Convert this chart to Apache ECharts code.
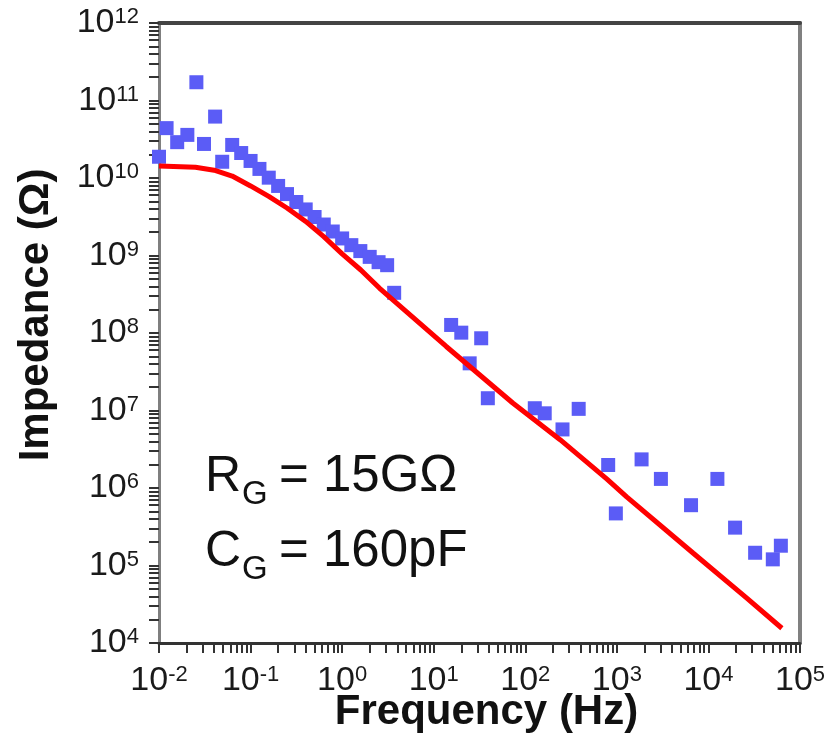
<!DOCTYPE html>
<html>
<head>
<meta charset="utf-8">
<script src="https://cdn.jsdelivr.net/npm/echarts@6/dist/echarts.min.js"></script>
<style>
html,body{margin:0;padding:0;background:#ffffff;}
#chart{width:827px;height:748px;}
</style>
</head>
<body>
<div id="chart"></div>
<script>
// ---- data ----
// measured impedance (blue squares)
const measuredFreqHz = [
  0.01, 0.0121, 0.0158, 0.0204, 0.0256, 0.031, 0.041, 0.049,
  0.063, 0.079, 0.1, 0.125, 0.158, 0.2, 0.25, 0.316, 0.4, 0.5,
  0.63, 0.79, 1.0, 1.26, 1.58, 2.0, 2.5, 3.1, 3.7,
  15.5, 20, 24.7, 33, 39,
  127, 163, 255, 383,
  804, 975, 1862, 3027, 6457, 12530, 19540, 32360, 50470, 61800
];
const measuredImpedance = [
  1.88e10, 4.4e10, 2.9e10, 3.6e10, 1.72e11, 2.75e10, 6.2e10, 1.62e10,
  2.67e10, 2.1e10, 1.66e10, 1.31e10, 1.01e10, 7.9e9, 6.2e9, 4.9e9, 3.93e9, 3.14e9,
  2.51e9, 2.04e9, 1.66e9, 1.36e9, 1.14e9, 9.6e8, 8.2e8, 7.5e8, 3.3e8,
  1.27e8, 1.01e8, 4.06e7, 8.55e7, 1.44e7,
  1.07e7, 9.2e6, 5.7e6, 1.05e7,
  1.98e6, 4.7e5, 2.34e6, 1.31e6, 6.0e5, 1.31e6, 3.08e5, 1.46e5, 1.2e5, 1.8e5
];
// fitted curve (red line)
const modelFreqHz = [
  0.01, 0.025, 0.04, 0.063, 0.1, 0.158, 0.25, 0.4, 0.63, 1.0,
  1.6, 2.55, 13.7, 73, 240, 780, 1280, 6840, 26240, 63400
];
const modelImpedance = [
  1.43e10, 1.38e10, 1.26e10, 1.06e10, 7.9e9, 5.8e9, 4.1e9, 2.75e9, 1.75e9, 1.05e9,
  6.5e8, 3.8e8, 6.7e7, 1.25e7, 4.2e6, 1.3e6, 7.7e5, 1.44e5, 3.8e4, 1.55e4
];
// axis decades (tick labels are 10^n)
const xDecadeMin = -2, xDecadeMax = 5;
const yDecadeMin = 4, yDecadeMax = 12;
// texts
const xTitle = 'Frequency (Hz)';
const yTitle = 'Impedance (Ω)';
const annotation1 = ['R', 'G', '= 15GΩ'];
const annotation2 = ['C', 'G', '= 160pF'];

// ---- build ----
const FONT = 'Liberation Sans, Arial, Helvetica, sans-serif';
function logTicks(lo, hi) {
  const out = [];
  for (let n = lo; n < hi; n++) {
    for (let k = 1; k <= 9; k++) out.push(n + Math.log10(k));
  }
  out.push(hi);
  return out;
}
const toLog = (fs, zs) => fs.map((f, i) => [Math.log10(f), Math.log10(zs[i])]);

const labelRich = {
  b: {fontSize: 34, lineHeight: 34, fontFamily: FONT, color: '#1a1a1a', verticalAlign: 'bottom'},
  s: {fontSize: 22, lineHeight: 22, fontFamily: FONT, color: '#1a1a1a', verticalAlign: 'top'}
};
const powLabel = v => '{b|10}{s|' + String(Math.round(v)) + '}';

function annotation(parts, capCenterY) {
  const common = {fontFamily: FONT, fill: '#111', verticalAlign: 'middle', align: 'left'};
  return [
    {type: 'text', x: 205, y: capCenterY, z: 10, style: Object.assign({text: parts[0], fontSize: 50}, common)},
    {type: 'text', x: 242, y: capCenterY + 18, z: 10, style: Object.assign({text: parts[1], fontSize: 33}, common)},
    {type: 'text', x: 279, y: capCenterY, z: 10, style: Object.assign({text: parts[2], fontSize: 51}, common)}
  ];
}

const chart = echarts.init(document.getElementById('chart'), null, {renderer: 'canvas'});

chart.setOption({
  animation: false,
  backgroundColor: '#ffffff',
  grid: {left: 159, right: 27, top: 23, bottom: 105, outerBoundsMode: 'none', containLabel: false},
  xAxis: [{
    type: 'value', min: xDecadeMin, max: xDecadeMax, interval: 1, position: 'bottom',
    name: xTitle, nameLocation: 'middle', nameGap: 48, nameMoveOverlap: false,
    nameTextStyle: {fontSize: 42, fontWeight: 'bold', fontFamily: FONT, color: '#111', padding: [0, 0, 0, 14]},
    axisLine: {show: true, onZero: false, lineStyle: {color: '#333', width: 3}},
    axisTick: {show: true, length: 10, customValues: logTicks(xDecadeMin, xDecadeMax), lineStyle: {color: '#333', width: 2}},
    axisLabel: {margin: 21, formatter: powLabel, rich: labelRich, hideOverlap: false},
    splitLine: {show: false}
  }, {
    type: 'value', min: xDecadeMin, max: xDecadeMax, position: 'top',
    axisLine: {show: true, onZero: false, lineStyle: {color: '#444', width: 4}},
    axisTick: {show: false}, axisLabel: {show: false}, splitLine: {show: false}
  }],
  yAxis: [{
    type: 'value', min: yDecadeMin, max: yDecadeMax, interval: 1, position: 'left',
    name: yTitle, nameLocation: 'middle', nameRotate: 90, nameGap: 102, nameMoveOverlap: false,
    nameTextStyle: {fontSize: 42, fontWeight: 'bold', fontFamily: FONT, color: '#111', padding: [0, 0, 0, 36]},
    axisLine: {show: true, onZero: false, lineStyle: {color: '#7f7f7f', width: 3}},
    axisTick: {show: true, length: 10, customValues: logTicks(yDecadeMin, yDecadeMax), lineStyle: {color: '#333', width: 2}},
    axisLabel: {margin: 20, formatter: powLabel, rich: labelRich, hideOverlap: false},
    splitLine: {show: false}
  }, {
    type: 'value', min: yDecadeMin, max: yDecadeMax, position: 'right',
    axisLine: {show: true, onZero: false, lineStyle: {color: '#808080', width: 4}},
    axisTick: {show: false}, axisLabel: {show: false}, splitLine: {show: false}
  }],
  series: [{
    type: 'scatter',
    xAxisIndex: 0, yAxisIndex: 0,
    data: toLog(measuredFreqHz, measuredImpedance),
    symbol: 'rect', symbolSize: 14,
    clip: false,
    itemStyle: {color: '#5b5cf6', opacity: 1},
    emphasis: {disabled: true},
    z: 2
  }, {
    type: 'line',
    xAxisIndex: 0, yAxisIndex: 0,
    data: toLog(modelFreqHz, modelImpedance),
    showSymbol: false, smooth: false,
    lineStyle: {color: '#ff0000', width: 5},
    emphasis: {disabled: true},
    z: 3
  }],
  graphic: annotation(annotation1, 477).concat(annotation(annotation2, 552))
});
</script>
</body>
</html>
